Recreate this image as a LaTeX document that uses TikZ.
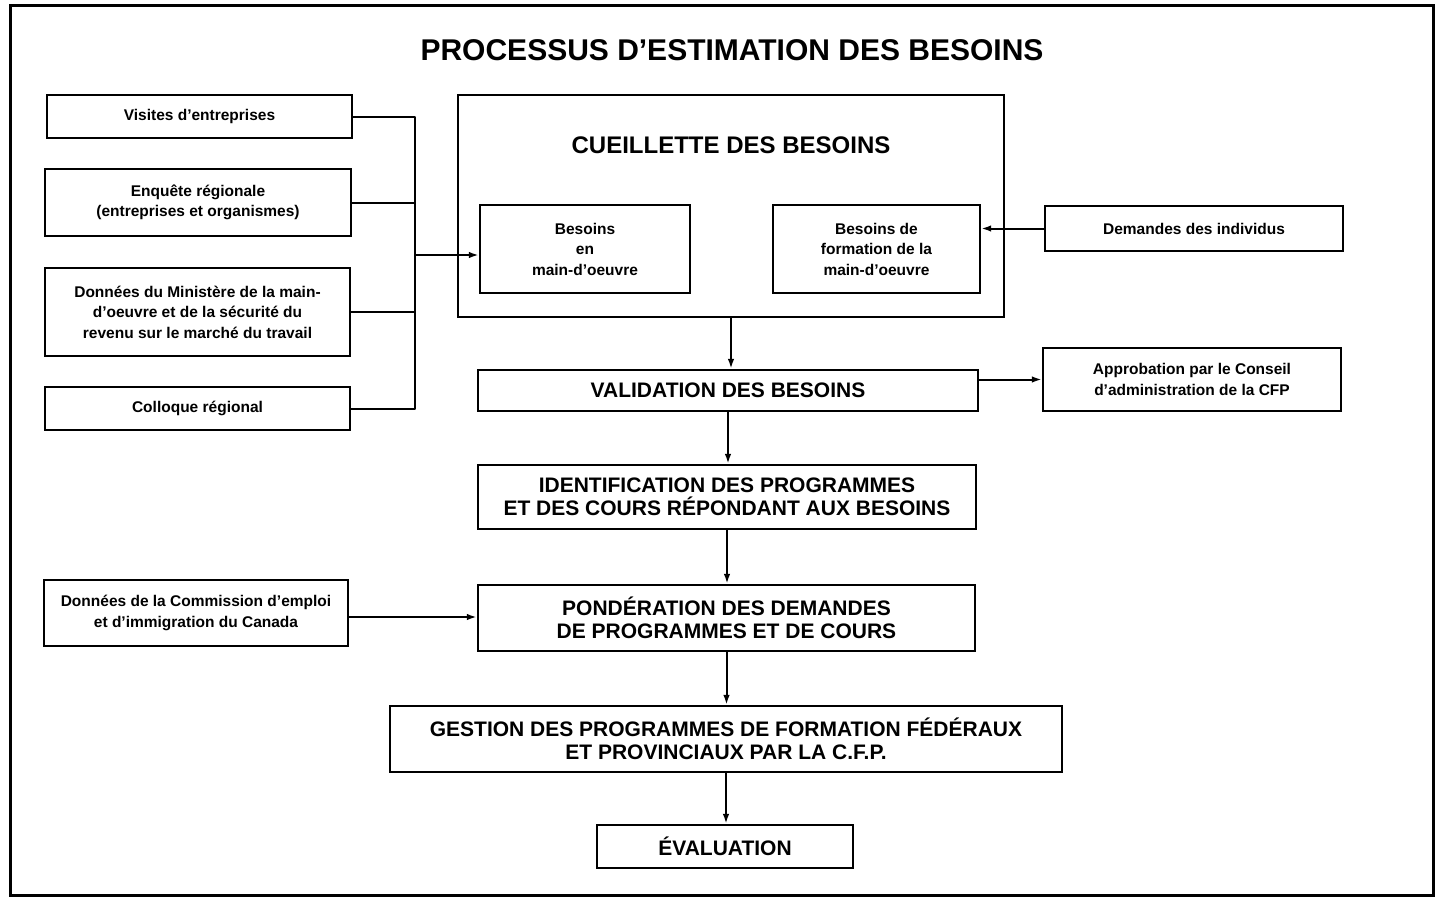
\documentclass[tikz,border=0pt]{standalone}
\usepackage{fontspec}
\setmainfont{Liberation Sans}
\usetikzlibrary{arrows.meta}
\begin{document}
\begin{tikzpicture}[x=1pt,y=-1pt,
  sz/.style 2 args={minimum width=#1pt,minimum height=#2pt},
  box/.style={draw, line width=2.2pt, inner sep=0pt, align=center,
    font=\bfseries\fontsize{15.5}{20.5}\selectfont},
  bigbox/.style={box, font=\bfseries\fontsize{21}{22.5}\selectfont},
  wire/.style={line width=2pt, line join=round},
  arr/.style={wire, -{Latex[length=10pt,width=6.5pt]}},
]
\useasboundingbox (0,0) rectangle (1436,899);
% outer frame
\draw[line width=3pt] (10,6) rectangle (1433,895);

% title
\node[anchor=base, font=\bfseries\fontsize{30}{32}\selectfont] (title) at (732,61)
  {PROCESSUS D'ESTIMATION DES BESOINS};

% sources on the left
\node[box, sz={305}{43}] (vis) at (199.5,116.5) {Visites d'entreprises};
\node[box, sz={306}{67}] (enq) at (198,202.5) {Enquête régionale\\(entreprises et organismes)};
\node[box, sz={305}{88}] (don) at (197.5,312) {Données du Ministère de la main-\\d'oeuvre et de la sécurité du\\revenu sur le marché du travail};
\node[box, sz={305}{43}] (col) at (197.5,408.5) {Colloque régional};

% collection block
\node[box, sz={546}{222}] (cue) at (731,206) {};
\node[anchor=base, font=\bfseries\fontsize{24}{26}\selectfont] (cuetitle) at (731,153)
  {CUEILLETTE DES BESOINS};
\node[box, sz={210}{88}] (bmo) at (585,249) {Besoins\\en\\main-d'oeuvre};
\node[box, sz={207}{88}] (bfo) at (876.5,249) {Besoins de\\formation de la\\main-d'oeuvre};

% right side
\node[box, sz={298}{45}] (dem) at (1194,228.5) {Demandes des individus};
\node[box, sz={298}{63}] (app) at (1192,379.5) {Approbation par le Conseil\\d'administration de la CFP};

% main chain
\node[bigbox, sz={500}{41}] (val) at (728,390.5) {VALIDATION DES BESOINS};
\node[bigbox, sz={498}{64}] (ide) at (727,497) {IDENTIFICATION DES PROGRAMMES\\ET DES COURS RÉPONDANT AUX BESOINS};
\node[bigbox, sz={497}{66}] (pon) at (726.5,618) {PONDÉRATION DES DEMANDES\\DE PROGRAMMES ET DE COURS};
\node[box, sz={304}{66}] (cec) at (196,613) {Données de la Commission d'emploi\\et d'immigration du Canada};
\node[bigbox, sz={672}{66}] (ges) at (726,739) {GESTION DES PROGRAMMES DE FORMATION FÉDÉRAUX\\ET PROVINCIAUX PAR LA C.F.P.};
\node[bigbox, sz={256}{43}] (eva) at (725,846.5) {ÉVALUATION};

% bus collecting the left sources
\coordinate (bus) at (415,255);
\draw[wire] (vis.east) -- (vis.east -| bus) -- (col.east -| bus) -- (col.east);
\draw[wire] (enq.east) -- (enq.east -| bus);
\draw[wire] (don.east) -- (don.east -| bus);
\draw[arr] (bus) -- (bus -| bmo.west);

% other connectors
\draw[arr] (dem.west) -- (dem.west -| bfo.east);
\draw[arr] (cue.south) -- (cue.south |- val.north);
\draw[arr] (app.west -| val.east) -- (app.west);
\draw[arr] (val.south) -- (val.south |- ide.north);
\draw[arr] (ide.south) -- (ide.south |- pon.north);
\coordinate (cecout) at ([yshift=-4pt]cec.east);
\draw[arr] (cecout) -- (cecout -| pon.west);
\draw[arr] (pon.south) -- (pon.south |- ges.north);
\draw[arr] (ges.south) -- (ges.south |- eva.north);
\end{tikzpicture}
\end{document}
